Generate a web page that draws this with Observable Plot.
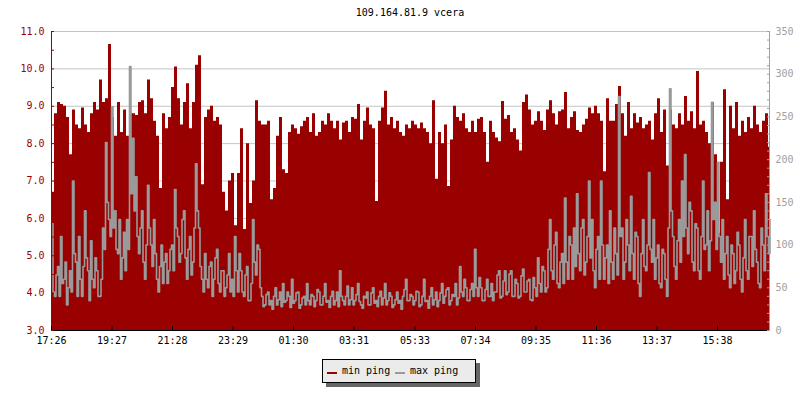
<!DOCTYPE html>
<html>
<head>
<meta charset="utf-8">
<script src="https://cdn.jsdelivr.net/npm/d3@7"></script>
<script src="https://cdn.jsdelivr.net/npm/@observablehq/plot@0.6"></script>
<style>
  html, body { margin: 0; padding: 0; background: #fff; }
  #wrap { position: relative; width: 800px; height: 400px; font-family: "DejaVu Sans Mono", monospace; font-size: 10px; color: #000; }
  #wrap svg { position: absolute; left: 0; top: 0; }
  #title { position: absolute; left: 0; top: 7px; width: 820px; text-align: center; line-height: 12px; }
  #legend { position: absolute; left: 322px; top: 359px; width: 152px; height: 22px; background: #ebebeb; border: 1px solid #000; box-shadow: 4px 4px 0 #666; }
  .sw { position: absolute; top: 12px; width: 10px; height: 2px; }
  .lt { position: absolute; top: 5px; line-height: 12px; white-space: pre; }
</style>
</head>
<body>
<div id="wrap">
  <div id="title"></div>
  <div id="legend"></div>
</div>
<script>
const title = "109.164.81.9 vcera";
const startTime = "17:26";
const minStepMinutes = 6;
const maxStepMinutes = 3;
const spanMinutes = 1436;
const xTickLabels = ["17:26","19:27","21:28","23:29","01:30","03:31","05:33","07:34","09:35","11:36","13:37","15:38"];
const leftTicks = [3, 4, 5, 6, 7, 8, 9, 10, 11];
const leftMinorTicks = [3, 3.5, 4, 4.5, 5, 5.5, 6, 6.5, 7, 7.5, 8, 8.5, 9, 9.5, 10, 10.5, 11];
const rightTicks = [0, 50, 100, 150, 200, 250, 300, 350];
const rightMinorTicks = [0,10,20,30,40,50,60,70,80,90,100,110,120,130,140,150,160,170,180,190,200,210,220,230,240,250,260,270,280,290,300,310,320,330,340,350];
const legendLabels = ["min ping", "max ping"];
const colors = ["#990000", "#9a9a9a"];

// min ping (left axis units), one value per 6-minute sample
const minPing = [
  6.7, 8.8, 9.1, 9.05, 9.0, 8.7, 7.7, 8.9, 8.5, 8.4,
  8.95, 8.5, 8.3, 8.8, 9.1, 8.9, 9.7, 9.1, 9.2, 10.65,
  8.7, 8.2, 9.1, 8.3, 8.9, 8.2, 8.8, 8.8, 8.75, 9.1,
  9.15, 8.8, 9.7, 9.2, 8.6, 8.2, 6.8, 8.8, 8.4, 8.7,
  9.5, 10.05, 9.2, 8.5, 9.1, 9.6, 8.4, 9.1, 10.1, 10.35,
  6.9, 8.7, 8.9, 9.0, 8.6, 8.7, 8.5, 6.7, 6.2, 7.0,
  7.2, 5.8, 7.2, 8.4, 5.7, 8.0, 6.4, 7.0, 9.15, 8.6,
  8.5, 8.5, 8.6, 6.5, 6.8, 8.2, 8.7, 7.3, 7.2, 8.3,
  8.5, 8.4, 8.25, 8.45, 8.6, 8.7, 8.3, 8.8, 8.2, 8.3,
  8.6, 8.5, 8.8, 8.6, 8.4, 8.6, 8.1, 8.55, 8.6, 8.3,
  8.7, 8.65, 9.05, 8.1, 8.6, 8.95, 8.5, 8.4, 6.45, 8.6,
  8.95, 9.4, 8.5, 8.7, 8.4, 8.6, 8.3, 8.2, 8.5, 8.4,
  8.6, 8.5, 8.4, 8.55, 8.4, 8.3, 8.0, 9.15, 7.05, 8.3,
  8.0, 8.5, 6.85, 8.1, 9.0, 8.7, 8.6, 8.8, 8.4, 8.3,
  8.6, 8.3, 8.65, 8.7, 8.3, 7.5, 8.6, 8.3, 8.15, 8.05,
  9.13, 8.65, 8.75, 8.3, 8.4, 8.1, 7.8, 9.1, 9.3, 8.9,
  8.5, 8.6, 8.85, 8.6, 8.35, 8.9, 9.15, 8.8, 8.5, 8.85,
  8.9, 9.37, 8.4, 8.7, 8.85, 8.35, 8.3, 8.5, 8.65, 8.95,
  8.8, 9.0, 8.8, 8.6, 7.25, 9.2, 8.6, 8.6, 9.05, 9.53,
  8.8, 8.2, 9.1, 8.4, 8.8, 8.55, 8.7, 8.4, 8.5, 8.6,
  8.1, 8.8, 9.2, 8.3, 8.9, 7.4, 8.9, 8.5, 8.4, 8.8,
  8.5, 9.26, 8.6, 8.85, 8.4, 9.93, 8.5, 8.6, 8.3, 8.0,
  9.1, 7.7, 5.6, 7.5, 9.44, 6.5, 9.0, 8.4, 9.1, 8.2,
  8.6, 8.3, 8.7, 8.4, 9.0, 8.5, 8.3, 8.6, 8.8, 7.9
];

// max ping (right axis units), one value per 3-minute sample
const maxPing = [
  125,45, 40,65, 75,40, 110,55, 60,80, 30,50, 70,45, 175,90, 80,40, 110,60,
  40,75, 140,85, 70,35, 105,60, 50,85, 70,40, 40,60, 120,95, 220,150, 130,110,
  262,120, 140,95, 90,130, 60,85, 115,70, 130,95, 309,160, 225,140, 180,110, 90,120,
  140,80, 60,100, 170,120, 100,75, 130,90, 60,45, 75,100, 55,80, 90,55, 70,95,
  100,70, 165,120, 110,80, 90,130, 140,85, 60,95, 110,65, 80,120, 195,140, 120,75,
  60,45, 90,60, 50,75, 80,40, 60,85, 95,55, 45,70, 70,40, 50,65, 90,45,
  60,40, 110,70, 45,90, 70,45, 40,65, 75,35, 35,55, 130,80, 65,100, 95,50,
  40,28, 30,42, 45,30, 35,25, 40,50, 30,36, 45,28, 55,33, 35,45, 40,27,
  60,32, 35,44, 45,26, 30,38, 40,30, 55,35, 30,42, 40,28, 35,48, 45,30,
  30,40, 55,33, 35,27, 40,46, 30,35, 45,28, 70,40, 35,30, 40,52, 30,36,
  50,30, 35,42, 55,34, 30,26, 40,38, 45,30, 30,44, 50,32, 35,28, 40,46,
  30,38, 55,30, 35,44, 40,27, 30,36, 45,32, 35,25, 40,48, 60,35, 35,42,
  40,30, 35,46, 45,28, 30,40, 60,34, 35,26, 40,50, 30,36, 45,28, 35,44,
  55,32, 40,48, 50,30, 35,42, 40,55, 30,38, 75,45, 40,60, 50,35, 35,48,
  55,40, 95,50, 40,62, 50,35, 35,48, 60,40, 40,55, 35,45, 45,65, 70,38,
  40,58, 70,42, 45,66, 70,40, 40,60, 55,38, 40,64, 72,45, 45,58, 60,36,
  35,62, 50,40, 85,55, 45,75, 70,45, 50,95, 130,70, 60,100, 115,55, 50,80,
  90,55, 155,80, 60,110, 100,60, 120,75, 160,90, 70,120, 130,65, 80,110, 175,85,
  130,70, 50,95, 110,60, 175,100, 60,85, 100,55, 140,80, 60,120, 90,65, 274,110,
  120,60, 80,130, 100,70, 157,90, 60,115, 110,55, 40,90, 130,75, 70,100, 185,95,
  80,130, 60,85, 100,55, 50,95, 90,60, 40,120, 283,140, 110,75, 60,105, 130,80,
  175,110, 206,120, 90,150, 140,80, 70,125, 120,70, 60,110, 175,95, 100,140, 70,105,
  267,130, 150,95, 197,110, 80,130, 60,90, 110,65, 50,100, 90,55, 70,115, 100,60,
  45,85, 130,70, 60,110, 110,75, 140,95, 80,55, 50,120, 100,70, 160,110, 90,130
];

const yMin = leftTicks[0];
const yMax = leftTicks[leftTicks.length - 1];
const rightMax = rightTicks[rightTicks.length - 1];
const toLeft = ms => yMin + ms * (yMax - yMin) / rightMax;
const toMinutes = s => {
  const [h, m] = s.split(":").map(Number);
  const [h0, m0] = startTime.split(":").map(Number);
  let d = (h * 60 + m) - (h0 * 60 + m0);
  if (d < 0) d += 1440;
  return d;
};
const xTicks = xTickLabels.map(toMinutes);

const minRows = minPing.map((v, i) => ({t: i * minStepMinutes, v}));
minRows.push({t: spanMinutes, v: minPing[minPing.length - 1]});
const maxRows = maxPing.map((v, i) => ({t: i * maxStepMinutes, v}));
maxRows.push({t: spanMinutes, v: maxPing[maxPing.length - 1]});

const chart = Plot.plot({
  width: 800,
  height: 400,
  marginLeft: 51,
  marginRight: 31,
  marginTop: 31,
  marginBottom: 70,
  style: {fontFamily: "'DejaVu Sans Mono', monospace", fontSize: "10px", background: "transparent", overflow: "visible"},
  x: {domain: [0, spanMinutes], axis: null, label: null},
  y: {domain: [yMin, yMax], axis: null, label: null},
  marks: [
    Plot.gridY(leftTicks, {stroke: "#c4c4c4", strokeOpacity: 1}),
    Plot.areaY(minRows, {x: "t", y1: yMin, y2: "v", curve: "step-after", fill: colors[0]}),
    Plot.lineY(maxRows, {x: "t", y: d => toLeft(d.v), curve: "step-after", stroke: colors[1], strokeWidth: 1.6}),
    Plot.ruleY([yMin], {stroke: "#000"}),
    Plot.ruleX([0], {stroke: colors[0]}),
    Plot.ruleX([spanMinutes], {stroke: "#a0a0a0"}),
    Plot.axisY(leftTicks, {anchor: "left", label: null, tickSize: 0, tickPadding: 7, tickFormat: d => d.toFixed(1), fill: colors[0]}),
    Plot.axisY(leftMinorTicks, {anchor: "left", label: null, tickSize: 3, dx: 3, tickFormat: () => "", stroke: colors[0]}),
    Plot.axisY(rightTicks.map(toLeft), {anchor: "right", label: null, tickSize: 0, tickPadding: 6, tickFormat: d => String(Math.round((d - yMin) * rightMax / (yMax - yMin))), fill: "#a0a0a0"}),
    Plot.axisY(rightMinorTicks.map(toLeft), {anchor: "right", label: null, tickSize: 3, dx: -3, tickFormat: () => "", stroke: "#a0a0a0"}),
    Plot.axisX(xTicks, {anchor: "bottom", label: null, tickSize: 0, tickPadding: 6, tickFormat: d => xTickLabels[xTicks.indexOf(d)], fill: "#000"}),
    Plot.axisX(xTicks, {anchor: "bottom", label: null, tickSize: 4, dy: -4, tickFormat: () => "", stroke: "#000"})
  ]
});
const wrap = document.getElementById("wrap");
wrap.insertBefore(chart, wrap.firstChild);
document.getElementById("title").textContent = title;

const legend = document.getElementById("legend");
const swX = [4, 72];
legendLabels.forEach((lab, i) => {
  const sw = document.createElement("div");
  sw.className = "sw";
  sw.style.left = swX[i] + "px";
  sw.style.background = colors[i];
  legend.appendChild(sw);
  const t = document.createElement("div");
  t.className = "lt";
  t.style.left = (swX[i] + 15) + "px";
  t.textContent = lab;
  legend.appendChild(t);
});
</script>
</body>
</html>
